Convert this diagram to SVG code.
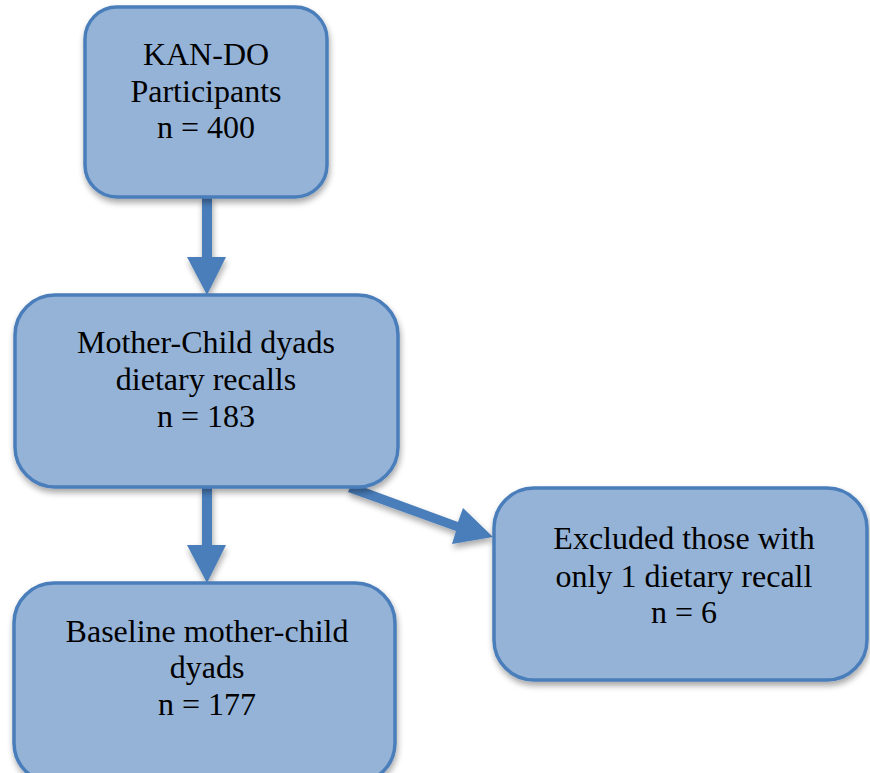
<svg xmlns="http://www.w3.org/2000/svg" width="870" height="773" viewBox="0 0 870 773">
<style>
.box{fill:#95b3d7;stroke:#4a7ebb;stroke-width:3.5;filter:url(#sh)}
.t{font-family:"Liberation Serif","Times New Roman",serif;font-size:32px;fill:#000;text-anchor:middle}
.ar{fill:#4a7ebb;filter:url(#sh)}
</style>
<defs>
<filter id="sh" x="-10%" y="-10%" width="125%" height="125%">
<feGaussianBlur in="SourceAlpha" stdDeviation="3"/>
<feOffset dx="1" dy="4" result="b"/>
<feComponentTransfer><feFuncA type="linear" slope="0.35"/></feComponentTransfer>
<feMerge><feMergeNode/><feMergeNode in="SourceGraphic"/></feMerge>
</filter>
</defs>
<g id="connectors">
<polygon class="ar" points="202,197 212,197 212,257 226,257 207,295 187,257 202,257"/>
<polygon class="ar" points="202,487 212,487 212,545 226,545 207,583 187,545 202,545"/>
<polygon class="ar" points="348,492 352,483 458,522 463,508 493,537 452,544 456,531"/>
</g>
<g id="n1">
<rect class="box" x="85" y="7" width="242" height="190" rx="32"/>
<text class="t" x="206" y="65">KAN-DO</text>
<text class="t" x="206" y="102">Participants</text>
<text class="t" x="206" y="138">n = 400</text>
</g>
<g id="n2">
<rect class="box" x="15" y="295" width="383" height="192" rx="40"/>
<text class="t" x="206" y="353">Mother-Child dyads</text>
<text class="t" x="206" y="390">dietary recalls</text>
<text class="t" x="206" y="427">n = 183</text>
</g>
<g id="n3">
<rect class="box" x="494" y="488" width="373" height="192" rx="40"/>
<text class="t" x="684" y="549">Excluded those with</text>
<text class="t" x="684" y="587">only 1 dietary recall</text>
<text class="t" x="684" y="623">n = 6</text>
</g>
<g id="n4">
<rect class="box" x="14" y="583" width="381" height="200" rx="40"/>
<text class="t" x="207" y="642">Baseline mother-child</text>
<text class="t" x="207" y="678">dyads</text>
<text class="t" x="207" y="715">n = 177</text>
</g>
</svg>
